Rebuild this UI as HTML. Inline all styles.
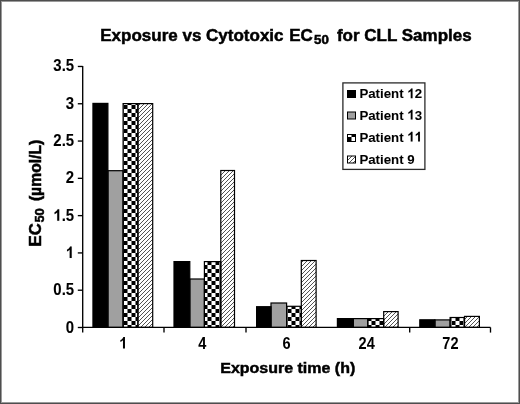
<!DOCTYPE html>
<html><head><meta charset="utf-8"><style>
html,body{margin:0;padding:0;background:#fff;}
body{width:520px;height:404px;overflow:hidden;position:relative;}
.frame{position:absolute;left:0;top:0;width:518px;height:402px;border:1px solid #4e4e4e;}
.frame2{position:absolute;left:1px;top:1px;width:516px;height:400px;border:1px solid #9a9a9a;}
svg{position:absolute;left:0;top:0;will-change:transform;filter:blur(0.3px);}
text{font-family:"Liberation Sans",sans-serif;font-weight:bold;fill:#000;stroke:#000;stroke-width:0.5px;}
path.g{fill:#000;stroke:#000;stroke-width:0.5px;vector-effect:non-scaling-stroke;}
.lt text,.lt path.g{stroke-width:0.08px;}
.lt2 text,.lt2 path.g{stroke-width:0.01px;}
.lt0 text,.lt0 path.g{stroke-width:0.05px;}
</style></head><body>
<svg width="520" height="404" viewBox="0 0 520 404">
<defs>
<pattern id="chk" patternUnits="userSpaceOnUse" x="3.5" y="1" width="8" height="8">
<rect width="8" height="8" fill="#fff"/><rect width="4" height="4" fill="#000"/><rect x="4" y="4" width="4" height="4" fill="#000"/>
</pattern>
<pattern id="hat" patternUnits="userSpaceOnUse" width="4" height="4">
<rect width="4" height="4" fill="#fff"/>
<path d="M-1,5 L5,-1 M-1,1 L1,-1 M3,5 L5,3" stroke="#4a4a4a" stroke-width="0.95"/>
</pattern>
</defs>
<g font-size="17" transform="translate(0,40.7) scale(1,0.95)">
<text x="100.3" y="0">Exposure vs Cytotoxic</text>
<text x="289.2" y="0">EC</text>
<text x="336.9" y="0">for CLL Samples</text>
</g>
<text x="314" y="44.2" font-size="12" textLength="14.8" lengthAdjust="spacingAndGlyphs">50</text>
<rect x="92.95" y="103.40" width="14.95" height="224.00" fill="#000"/><rect x="107.90" y="170.70" width="15.20" height="156.70" fill="#a0a0a0"/><rect x="123.10" y="103.60" width="14.80" height="223.80" fill="url(#chk)"/><rect x="137.90" y="103.60" width="14.80" height="223.80" fill="url(#hat)"/><rect x="174.00" y="261.60" width="15.80" height="65.80" fill="#000"/><rect x="189.80" y="279.00" width="14.60" height="48.40" fill="#a0a0a0"/><rect x="204.40" y="261.60" width="16.40" height="65.80" fill="url(#chk)"/><rect x="220.80" y="170.50" width="13.70" height="156.90" fill="url(#hat)"/><rect x="256.60" y="306.70" width="14.40" height="20.70" fill="#000"/><rect x="271.00" y="303.00" width="15.60" height="24.40" fill="#a0a0a0"/><rect x="286.60" y="306.30" width="14.70" height="21.10" fill="url(#chk)"/><rect x="301.30" y="260.50" width="14.80" height="66.90" fill="url(#hat)"/><rect x="337.40" y="318.60" width="15.90" height="8.80" fill="#000"/><rect x="353.30" y="318.60" width="14.50" height="8.80" fill="#a0a0a0"/><rect x="367.80" y="318.60" width="15.90" height="8.80" fill="url(#chk)"/><rect x="383.70" y="311.60" width="14.40" height="15.80" fill="url(#hat)"/><rect x="419.80" y="319.80" width="15.10" height="7.60" fill="#000"/><rect x="434.90" y="319.90" width="15.20" height="7.50" fill="#a0a0a0"/><rect x="450.10" y="317.50" width="14.40" height="9.90" fill="url(#chk)"/><rect x="464.50" y="316.40" width="14.90" height="11.00" fill="url(#hat)"/>
<g fill="none" stroke="#000" stroke-width="1.2"><rect x="92.95" y="103.40" width="14.95" height="224.00"/><rect x="107.90" y="170.70" width="15.20" height="156.70"/><rect x="123.10" y="103.60" width="14.80" height="223.80"/><rect x="137.90" y="103.60" width="14.80" height="223.80"/><rect x="174.00" y="261.60" width="15.80" height="65.80"/><rect x="189.80" y="279.00" width="14.60" height="48.40"/><rect x="204.40" y="261.60" width="16.40" height="65.80"/><rect x="220.80" y="170.50" width="13.70" height="156.90"/><rect x="256.60" y="306.70" width="14.40" height="20.70"/><rect x="271.00" y="303.00" width="15.60" height="24.40"/><rect x="286.60" y="306.30" width="14.70" height="21.10"/><rect x="301.30" y="260.50" width="14.80" height="66.90"/><rect x="337.40" y="318.60" width="15.90" height="8.80"/><rect x="353.30" y="318.60" width="14.50" height="8.80"/><rect x="367.80" y="318.60" width="15.90" height="8.80"/><rect x="383.70" y="311.60" width="14.40" height="15.80"/><rect x="419.80" y="319.80" width="15.10" height="7.60"/><rect x="434.90" y="319.90" width="15.20" height="7.50"/><rect x="450.10" y="317.50" width="14.40" height="9.90"/><rect x="464.50" y="316.40" width="14.90" height="11.00"/></g>
<g stroke="#000" stroke-width="1.35">
<line x1="82.7" y1="66" x2="82.7" y2="332.6"/>
<line x1="82.7" y1="327.40" x2="490.5" y2="327.40"/>
<line x1="77.8" y1="327.50" x2="82.7" y2="327.50"/><line x1="77.8" y1="290.21" x2="82.7" y2="290.21"/><line x1="77.8" y1="252.92" x2="82.7" y2="252.92"/><line x1="77.8" y1="215.63" x2="82.7" y2="215.63"/><line x1="77.8" y1="178.34" x2="82.7" y2="178.34"/><line x1="77.8" y1="141.05" x2="82.7" y2="141.05"/><line x1="77.8" y1="103.76" x2="82.7" y2="103.76"/><line x1="77.8" y1="66.47" x2="82.7" y2="66.47"/>
<line x1="164.00" y1="327.40" x2="164.00" y2="332.6"/><line x1="246.00" y1="327.40" x2="246.00" y2="332.6"/><line x1="409.70" y1="327.40" x2="409.70" y2="332.6"/><line x1="490.50" y1="327.40" x2="490.50" y2="332.6"/>
</g>
<g class="lt"><text transform="translate(65.79,332.50) scale(0.94,1)" x="0" y="0" font-size="15.9">0</text><text transform="translate(53.33,295.21) scale(0.94,1)" x="0" y="0" font-size="15.9">0.5</text><path class="g" transform="translate(65.79,257.92) scale(0.01495,-0.01590)" d="M396,0L259,0L259,514C206,464 142,428 82,408L82,532C118,544 158,566 200,600C242,634 270,672 286,716L396,716Z"/><path class="g" transform="translate(53.33,220.63) scale(0.01495,-0.01590)" d="M396,0L259,0L259,514C206,464 142,428 82,408L82,532C118,544 158,566 200,600C242,634 270,672 286,716L396,716Z"/><text transform="translate(61.64,220.63) scale(0.94,1)" x="0" y="0" font-size="15.9">.5</text><text transform="translate(65.79,183.34) scale(0.94,1)" x="0" y="0" font-size="15.9">2</text><text transform="translate(53.33,146.05) scale(0.94,1)" x="0" y="0" font-size="15.9">2.5</text><text transform="translate(65.79,108.76) scale(0.94,1)" x="0" y="0" font-size="15.9">3</text><text transform="translate(53.33,71.47) scale(0.94,1)" x="0" y="0" font-size="15.9">3.5</text></g>
<g class="lt2"><path class="g" transform="translate(119.20,348.50) scale(0.01456,-0.01600)" d="M396,0L259,0L259,514C206,464 142,428 82,408L82,532C118,544 158,566 200,600C242,634 270,672 286,716L396,716Z"/><text transform="translate(198.30,348.50) scale(0.91,1)" x="0" y="0" font-size="16">4</text><text transform="translate(282.50,348.50) scale(0.91,1)" x="0" y="0" font-size="16">6</text><text transform="translate(358.60,348.50) scale(0.91,1)" x="0" y="0" font-size="16">24</text><text transform="translate(442.30,348.50) scale(0.91,1)" x="0" y="0" font-size="16">72</text></g>
<g transform="translate(220.25,372.5) scale(1,0.93)"><text x="0" y="0" font-size="16">Exposure time (h)</text></g>
<g transform="translate(41,246.5) rotate(-90)"><text x="0" y="0" font-size="16" textLength="23.2" lengthAdjust="spacingAndGlyphs">EC</text><text x="23.9" y="3.2" font-size="12.5" textLength="14.4" lengthAdjust="spacingAndGlyphs">50</text><text x="45.4" y="0" font-size="16" textLength="61.4" lengthAdjust="spacingAndGlyphs">(&#181;mol/L)</text></g>
<rect x="342.9" y="82.9" width="82" height="86.5" fill="#fff" stroke="#2a2a2a" stroke-width="1.3"/>
<g class="lt0"><rect x="347.5" y="90.5" width="8" height="7" fill="#000" stroke="#000" stroke-width="1"/><text transform="translate(359.40,98.20) scale(0.975,1)" x="0" y="0" font-size="13.6">Patient&#160;</text><path class="g" transform="translate(407.30,98.20) scale(0.01326,-0.01360)" d="M396,0L259,0L259,514C206,464 142,428 82,408L82,532C118,544 158,566 200,600C242,634 270,672 286,716L396,716Z"/><text transform="translate(414.67,98.20) scale(0.975,1)" x="0" y="0" font-size="13.6">2</text><rect x="347.5" y="112.0" width="8" height="7" fill="#a0a0a0" stroke="#000" stroke-width="1"/><text transform="translate(359.40,119.50) scale(0.975,1)" x="0" y="0" font-size="13.6">Patient&#160;</text><path class="g" transform="translate(407.30,119.50) scale(0.01326,-0.01360)" d="M396,0L259,0L259,514C206,464 142,428 82,408L82,532C118,544 158,566 200,600C242,634 270,672 286,716L396,716Z"/><text transform="translate(414.67,119.50) scale(0.975,1)" x="0" y="0" font-size="13.6">3</text><rect x="347.5" y="134.5" width="8" height="7" fill="url(#chk)" stroke="#000" stroke-width="1"/><text transform="translate(359.40,141.50) scale(0.975,1)" x="0" y="0" font-size="13.6">Patient&#160;</text><path class="g" transform="translate(407.30,141.50) scale(0.01326,-0.01360)" d="M396,0L259,0L259,514C206,464 142,428 82,408L82,532C118,544 158,566 200,600C242,634 270,672 286,716L396,716Z"/><path class="g" transform="translate(414.67,141.50) scale(0.01326,-0.01360)" d="M396,0L259,0L259,514C206,464 142,428 82,408L82,532C118,544 158,566 200,600C242,634 270,672 286,716L396,716Z"/><rect x="347.5" y="156.0" width="8" height="7" fill="url(#hat)" stroke="#000" stroke-width="1"/><text transform="translate(359.40,163.50) scale(0.975,1)" x="0" y="0" font-size="13.6">Patient&#160;9</text></g>
</svg>
<div class="frame2"></div><div class="frame"></div>
</body></html>
